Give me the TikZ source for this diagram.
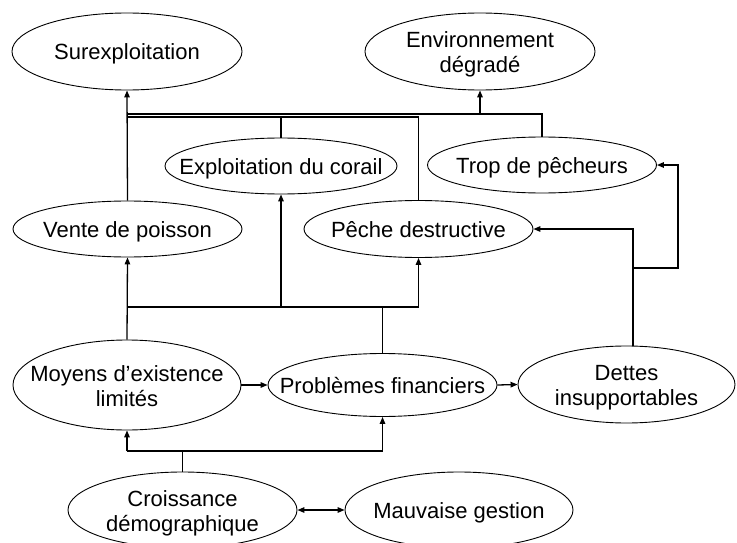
\documentclass[tikz,border=0pt]{standalone}
\usepackage{fontspec}
\setmainfont{Liberation Sans}
\usetikzlibrary{shapes.geometric,arrows.meta}
% zero-width centred label so that each ellipse keeps its given size;
% the text is lowered a little to sit optically centred
\newcommand\otext[1]{\makebox[0pt]{\raisebox{-3.5pt}[\height][\depth]{\begin{tabular}{@{}c@{}}#1\end{tabular}}}}
\begin{document}
\begin{tikzpicture}[x=1pt,y=-1pt,
  oval/.style={draw,ellipse,line width=0.9pt,inner sep=0pt,
    font=\fontsize{22}{25}\selectfont},
  link/.style={line width=1.3pt},
  arr/.style={link,-{Triangle[length=7pt,width=5.5pt]}},
  darr/.style={link,{Triangle[length=7pt,width=5.5pt]}-{Triangle[length=7pt,width=5.5pt]}}]
\useasboundingbox (0,0) rectangle (737,543);
\clip (0,0) rectangle (737,543);

% effects
\node[oval,minimum width=230pt,minimum height=77pt] (sur) at (127,51.5) {\otext{Surexploitation}};
\node[oval,minimum width=230pt,minimum height=77pt] (env) at (480,51.5) {\otext{Environnement\\dégradé}};

% activities
\node[oval,minimum width=232pt,minimum height=56pt] (expl) at (281,166) {\otext{Exploitation du corail}};
\node[oval,minimum width=229pt,minimum height=56pt] (trop) at (542,165) {\otext{Trop de pêcheurs}};
\node[oval,minimum width=229pt,minimum height=56pt] (vente) at (127.5,229) {\otext{Vente de poisson}};
\node[oval,minimum width=229pt,minimum height=57pt] (peche) at (418.5,229) {\otext{Pêche destructive}};

% causes
\node[oval,minimum width=228pt,minimum height=90pt] (moy) at (127,385) {\otext{Moyens d’existence\\limités}};
\node[oval,minimum width=229pt,minimum height=63pt] (prob) at (382.5,385) {\otext{Problèmes financiers}};
\node[oval,minimum width=217pt,minimum height=77pt] (det) at (626.5,384.5) {\otext{Dettes\\insupportables}};
\node[oval,minimum width=229pt,minimum height=76pt] (cro) at (182.5,510) {\otext{Croissance\\démographique}};
\node[oval,minimum width=228pt,minimum height=76pt] (mau) at (459,510) {\otext{Mauvaise gestion}};

% junction points of the bus lines
\coordinate (topbus) at (0,114);
\coordinate (midbus) at (0,117);
\coordinate (lowbus) at (0,307);
\coordinate (basebus) at (0,451);
\coordinate (debtbus) at (0,268);
\coordinate (rightrun) at (678,0);
\coordinate (debtx) at (633,0);

% upper buses to the effects
\draw[arr] (vente.north) -- (sur.south);
\draw[link] (trop.north) |- (sur.south |- topbus);
\draw[arr] (env.south |- topbus) -- (env.south);
\draw[link] (vente.north |- midbus) -| (peche.north);
\draw[link] (expl.north) -- (expl.north |- midbus);

% lower bus to the activities
\draw[arr] (moy.north) -- (vente.south);
\draw[link] (moy.north |- lowbus) -- (peche.south |- lowbus);
\draw[arr] (peche.south |- lowbus) -- (peche.south);
\draw[arr] (expl.south |- lowbus) -- (expl.south);
\draw[link] (prob.north) -- (prob.north |- lowbus);

% chain of causes
\draw[arr] (moy.east) -- (prob.west);
\draw[arr] (prob.east) -- (det.west);
\draw[arr] (debtx |- det.north) |- (peche.east);
\draw[arr] (debtx |- debtbus) -| (rightrun |- trop.east) -- (trop.east);

% population growth
\draw[link] (cro.north) -- (cro.north |- basebus);
\draw[arr] (moy.south |- basebus) -- (moy.south);
\draw[link] (moy.south |- basebus) -- (prob.south |- basebus);
\draw[arr] (prob.south |- basebus) -- (prob.south);
\draw[darr] (cro.east) -- (mau.west);
\end{tikzpicture}
\end{document}
